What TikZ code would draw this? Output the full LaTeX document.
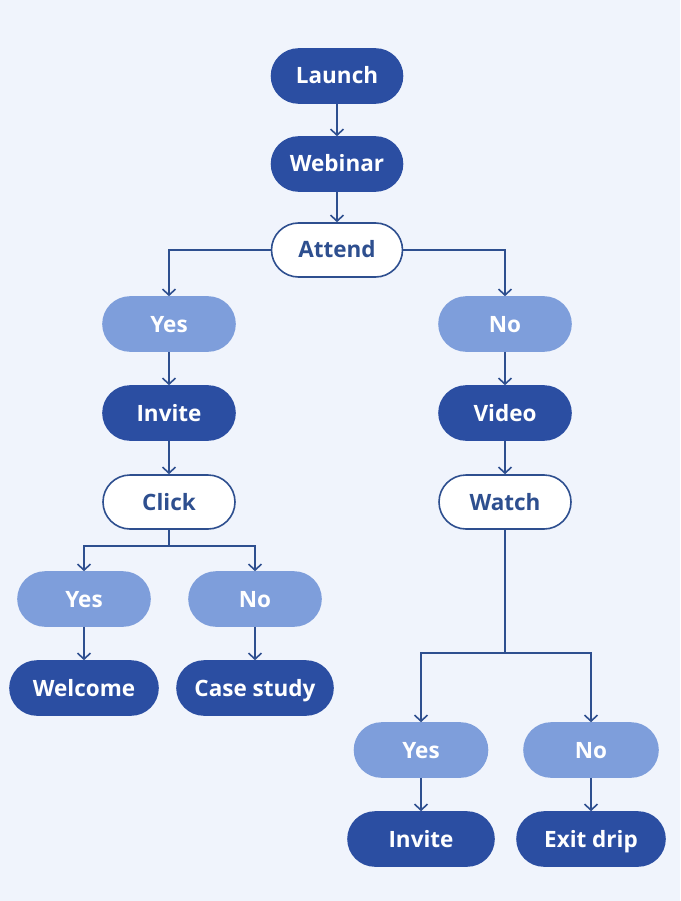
\documentclass[tikz,border=0pt]{standalone}
\usepackage{fontspec}
\setmainfont{Open Sans}
\usetikzlibrary{arrows.meta}
\definecolor{bg}{HTML}{F0F4FC}
\definecolor{dark}{HTML}{2B4EA2}
\definecolor{light}{HTML}{7E9EDB}
\definecolor{linec}{HTML}{2E4F8F}
\tikzset{
  box/.style={rectangle, rounded corners=27pt, minimum height=54pt, inner sep=0pt,
    text height=18pt, text depth=2pt,
    font=\fontsize{22.5}{26}\selectfont\bfseries, text=white, line width=1.6pt},
  darkbox/.style={box, fill=dark, draw=dark},
  lightbox/.style={box, fill=light, draw=light},
  whitebox/.style={box, fill=white, draw=linec, text=linec},
  conn/.style={draw=linec, line width=1.6pt, -{Straight Barb[length=6pt,width=13pt,line width=1.6pt]}},
  plain/.style={draw=linec, line width=1.6pt}
}
\begin{document}
\begin{tikzpicture}[x=1pt,y=-1pt]
\fill[bg] (0,0) rectangle (680,901);
\useasboundingbox (0,0) rectangle (680,901);
\node[darkbox, minimum width=131pt] (launch) at (337,76) {Launch};
\node[darkbox, minimum width=131pt] (webinar) at (337,164) {Webinar};
\node[whitebox, minimum width=131pt] (attend) at (337,250) {Attend};
\node[lightbox, minimum width=132pt] (yes1) at (169,324) {Yes};
\node[lightbox, minimum width=132pt] (no1) at (505,324) {No};
\node[darkbox, minimum width=132pt] (invite1) at (169,413) {Invite};
\node[darkbox, minimum width=132pt] (video) at (505,413) {Video};
\node[whitebox, minimum width=132pt] (click) at (169,502) {Click};
\node[whitebox, minimum width=132pt] (watch) at (505,502) {Watch};
\node[lightbox, minimum width=132pt] (yes2) at (84,599) {Yes};
\node[lightbox, minimum width=132pt] (no2) at (255,599) {No};
\node[darkbox, minimum width=148pt] (welcome) at (84,688) {Welcome};
\node[darkbox, minimum width=156pt] (case) at (255,688) {Case study};
\node[lightbox, minimum width=133pt] (yes3) at (421,750) {Yes};
\node[lightbox, minimum width=134pt] (no3) at (591,750) {No};
\node[darkbox, minimum width=146pt] (invite2) at (421,839) {Invite};
\node[darkbox, minimum width=148pt] (exit) at (591,839) {Exit drip};

\draw[conn] (launch) -- (webinar);
\draw[conn] (webinar) -- (attend);
\draw[conn] (attend.west) -| (yes1.north);
\draw[conn] (attend.east) -| (no1.north);
\draw[conn] (yes1) -- (invite1);
\draw[conn] (invite1) -- (click);
\draw[conn] (no1) -- (video);
\draw[conn] (video) -- (watch);
\coordinate (cj) at (169,546);
\draw[plain] (click.south) -- (cj);
\draw[conn] (cj) -| (yes2.north);
\draw[conn] (cj) -| (no2.north);
\draw[conn] (yes2) -- (welcome);
\draw[conn] (no2) -- (case);
\coordinate (wj) at (505,653);
\draw[plain] (watch.south) -- (wj);
\draw[conn] (wj) -| (yes3.north);
\draw[conn] (wj) -| (no3.north);
\draw[conn] (yes3) -- (invite2);
\draw[conn] (no3) -- (exit);
\end{tikzpicture}
\end{document}
